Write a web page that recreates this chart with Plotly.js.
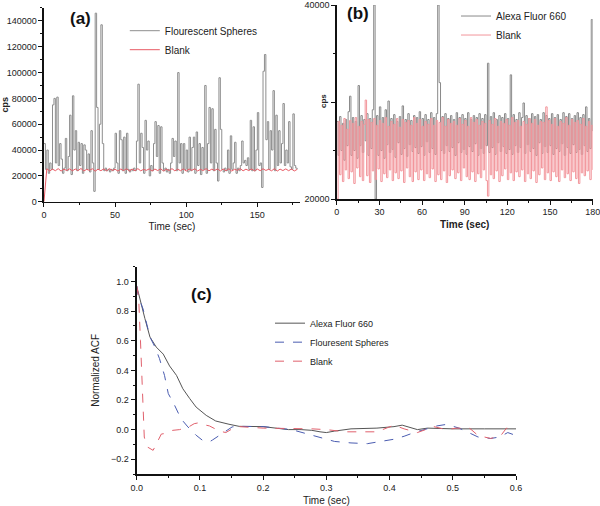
<!DOCTYPE html>
<html>
<head>
<meta charset="utf-8">
<script src="https://cdn.plot.ly/plotly-3.0.1.min.js"></script>
<style>html,body{margin:0;padding:0;background:#fff;}#chart{width:600px;height:506px;}</style>
</head>
<body>
<div id="chart"></div>
<script>
const spheresA = [45000,25000,40000,22000,30000,25000,75000,80000,30000,81000,
28000,45000,33000,22000,26000,49000,24000,35000,67000,21000,
82000,40000,55000,24000,46000,28000,45000,22000,44000,40000,
25000,37000,23000,55000,30000,8000,146000,73000,25000,60000,
137000,45000,24000,26000,24000,25000,23000,25000,24000,26000,
53000,30000,22000,55000,48000,24000,50000,22000,53000,25000,
23000,25000,24000,26000,24000,47000,91000,30000,53000,42000,
22000,63000,40000,47000,20000,28000,24000,45000,62000,35000,
59000,22000,58000,30000,24000,26000,23000,25000,22000,30000,
49000,35000,47000,24000,100000,30000,45000,22000,45000,25000,
40000,23000,50000,24000,42000,50000,22000,54000,28000,45000,
21000,42000,25000,90000,22000,45000,73000,30000,72000,24000,
56000,30000,16000,96000,56000,25000,23000,26000,24000,40000,
22000,51000,25000,30000,46000,22000,26000,24000,28000,47000,
30000,32000,28000,34000,25000,63000,24000,58000,24000,40000,
69000,28000,30000,11000,101000,114000,48000,62000,25000,55000,
40000,86000,24000,67000,28000,55000,30000,45000,76000,28000,
40000,30000,62000,27000,25000,68000,28000,26000,25000];
const blankA = [0,25500,23800,25200,24000,25600,23700,25100,24200,25400,
23900,25300,24100,25700,23800,25000,24300,25500,23600,25200,
24000,25400,23900,25600,24200,25100,23700,25300,24100,25500,
23800,25200,24000,25600,23900,25000,24300,25400,23700,25300,
24100,25500,23800,25100,24200,25600,23900,25200,24000,25400,
23700,25300,24300,25500,23800,25000,24100,25600,23900,25200,
24200,25400,23800,25300,24000,25500,23700,25100,24300,25600,
23900,25200,24100,25400,23800,25300,24000,25500,24200,25100,
23900,25600,23700,25200,24100,25400,24000,25300,23800,25000];
const alexaB = [28000,24500,28500,25000,27800,24000,28200,25500,29000,30600,
24500,28400,25000,28000,24200,31700,25500,28600,24800,28200,
26000,28800,24500,28300,25200,29200,40000,20000,28600,24500,
29500,25000,28400,24200,29200,25600,30100,24800,28300,25100,
28700,24300,28000,25800,28500,24600,29600,25200,28200,24400,
28800,25600,28100,24900,28600,25300,28400,24700,29000,25400,
28300,24500,28700,25900,28200,24800,28900,25200,28400,24600,
28800,40000,32000,25000,28500,24700,28800,25500,28300,24900,
28600,25300,28200,24500,28900,25800,28400,24800,28700,25100,
28300,24600,28900,25400,28200,24900,28600,25700,28400,24500,
28800,25200,28300,24700,28700,25500,34000,24800,28500,25300,
28900,24600,28200,25800,28600,24900,28400,25400,28800,24700,
28300,25100,32800,24600,28700,25500,28200,24800,28900,25300,
28400,29900,24700,28600,25600,28300,24900,28800,25200,28500,
24500,28700,25800,28200,24700,28900,25400,28600,24800,28300,
25500,28800,24600,28400,25200,28700,24900,28200,25700,28900,
24500,28500,25300,28800,24700,28300,25600,28600,24800,28900,
25100,28400,24600,28700,25500,29500,24900,28300,25200,38500,27000];
const blankB = [20000,28000,22500,27600,21800,28300,23000,27200,22100,28100,
22800,27800,21600,28400,23200,27500,22300,28000,21900,27700,
30200,22400,28200,21700,27900,22900,28300,22000,27600,23100,
28100,21800,27800,22600,28400,22200,27500,23000,28000,21900,
27700,22700,28300,22100,27400,22900,28200,21700,27900,23200,
28100,22300,27600,21800,28400,22800,27800,22000,28200,23000,
27500,21900,28000,22600,27700,22200,28300,23100,27600,21800,
28100,22500,27900,22000,28400,22900,27500,21700,28200,22400,
27800,23000,28000,22100,27600,22700,28300,21900,27700,23200,
28100,22300,27500,22000,28400,22800,27900,21800,28200,22600,
27600,22200,28000,23000,27800,21900,20300,28100,22500,27700,
22100,28300,22900,27500,21800,28000,22400,27800,23100,28200,
22000,27600,22700,28400,21900,27900,22800,28100,22300,27500,
23000,28000,21800,27700,22600,28300,22100,27800,22900,28200,
21700,27600,22500,28000,23200,27900,22000,29500,22700,28100,
21900,27700,22800,28300,22300,27500,21800,28000,23000,27800,
22200,28400,22600,27600,21900,28200,22800,27900,22100,28100,
21600,27700,22700,28300,22400,27500,22900,28000,22000,27600,23000];
const acfAlexaT = [0,0.005,0.013,0.021,0.031,0.042,0.052,0.063,0.073,0.084,0.094,0.11,0.125,0.146,0.162,0.2,0.225,0.24,0.26,0.277,0.29,0.3,0.313,0.339,0.38,0.407,0.42,0.444,0.46,0.5,0.55,0.6];
const acfAlexaV = [0.97,0.88,0.75,0.625,0.557,0.51,0.43,0.366,0.276,0.209,0.152,0.096,0.058,0.036,0.022,0.02,0.01,0.0,0.0,-0.005,-0.015,-0.02,-0.01,0.005,0.01,0.02,0.03,0.0,0.01,0.005,0.005,0.005];
const acfSpheresT = [0,0.0025,0.01,0.016,0.021,0.029,0.036,0.044,0.05,0.06,0.07,0.081,0.094,0.104,0.115,0.12,0.131,0.141,0.151,0.162,0.2,0.245,0.277,0.298,0.313,0.339,0.365,0.386,0.407,0.423,0.439,0.475,0.49,0.51,0.527,0.54,0.56,0.574,0.587,0.6];
const acfSpheresV = [0.97,0.9,0.816,0.715,0.625,0.557,0.48,0.366,0.243,0.164,0.074,0.018,-0.038,-0.072,-0.083,-0.07,-0.038,-0.005,0.018,0.022,0.02,0.0,-0.04,-0.065,-0.08,-0.09,-0.095,-0.08,-0.065,-0.045,-0.02,0.025,0.035,0.01,-0.025,-0.05,-0.06,-0.05,-0.02,-0.04];
const acfBlankT = [0,0.003,0.006,0.009,0.012,0.015,0.018,0.026,0.031,0.039,0.047,0.057,0.068,0.083,0.091,0.097,0.104,0.115,0.131,0.141,0.149,0.162,0.2,0.25,0.277,0.3,0.33,0.38,0.407,0.423,0.444,0.47,0.49,0.506,0.527,0.54,0.56,0.576,0.585,0.6];
const acfBlankV = [0.97,0.9,0.6,0.2,-0.05,-0.1,-0.12,-0.14,-0.1,-0.03,-0.025,-0.005,0.0,0.02,0.04,0.045,0.035,0.025,-0.01,-0.02,0.0,0.02,0.01,0.01,0.005,0.0,-0.015,-0.015,0.03,0.005,-0.02,0.02,0.0,0.01,0.008,-0.04,-0.06,-0.04,0.01,0.0];

const labelsA = {spheres: 'Flourescent Spheres', blank: 'Blank'};
const labelsB = {alexa: 'Alexa Fluor 660', blank: 'Blank'};
const labelsC = {alexa: 'Alexa Fluor 660', spheres: 'Flouresent Spheres', blank: 'Blank'};

const stepA = 1, stepBlankA = 2, stepB = 1;
const tSpheresA = spheresA.map((_, i) => i * stepA);
const tBlankA = blankA.map((_, i) => i * stepBlankA);
const tAlexaB = alexaB.map((_, i) => i * stepB);
const tBlankB = blankB.map((_, i) => i * stepB);

const FONT = 'Liberation Sans, Arial, sans-serif';

const traces = [
  {x: tSpheresA, y: spheresA, name: labelsA.spheres, type: 'scatter', mode: 'lines',
   line: {color: '#8e8e8e', width: 1, shape: 'hv'}, xaxis: 'x', yaxis: 'y', legend: 'legend'},
  {x: tBlankA, y: blankA, name: labelsA.blank, type: 'scatter', mode: 'lines',
   line: {color: '#e85a64', width: 1}, xaxis: 'x', yaxis: 'y', legend: 'legend'},
  {x: tAlexaB, y: alexaB, name: labelsB.alexa, type: 'scatter', mode: 'lines',
   line: {color: '#8a8a8a', width: 1, shape: 'hv'}, xaxis: 'x2', yaxis: 'y2', legend: 'legend2'},
  {x: tBlankB, y: blankB, name: labelsB.blank, type: 'scatter', mode: 'lines',
   line: {color: '#f2959b', width: 1, shape: 'hv'}, xaxis: 'x2', yaxis: 'y2', legend: 'legend2'},
  {x: acfAlexaT, y: acfAlexaV, name: labelsC.alexa, type: 'scatter', mode: 'lines',
   line: {color: '#555555', width: 1}, xaxis: 'x3', yaxis: 'y3', legend: 'legend3'},
  {x: acfSpheresT, y: acfSpheresV, name: labelsC.spheres, type: 'scatter', mode: 'lines',
   line: {color: '#4a5cb0', width: 1, dash: 'dash'}, xaxis: 'x3', yaxis: 'y3', legend: 'legend3'},
  {x: acfBlankT, y: acfBlankV, name: labelsC.blank, type: 'scatter', mode: 'lines',
   line: {color: '#e0606c', width: 1, dash: 'dash'}, xaxis: 'x3', yaxis: 'y3', legend: 'legend3'}
];

const tickFont = {family: FONT, size: 9, color: '#222'};
function axis(extra) {
  return Object.assign({
    showline: true, linecolor: '#111', linewidth: 1.5, showgrid: false, zeroline: false,
    ticks: 'outside', ticklen: 4, tickwidth: 1, tickcolor: '#111', tickfont: tickFont,
    mirror: false, automargin: false, ticklabeloverflow: 'allow',
    minor: {ticks: 'outside', ticklen: 2, tickcolor: '#111'}
  }, extra);
}

const legendBase = {xanchor: 'left', yanchor: 'top', bgcolor: 'rgba(0,0,0,0)', tracegroupgap: 0};

const layout = {
  width: 600, height: 506,
  margin: {l: 0, r: 0, t: 0, b: 0},
  paper_bgcolor: '#fff', plot_bgcolor: 'rgba(0,0,0,0)',
  font: {family: FONT, color: '#222'},
  xaxis: axis({domain: [0.0733, 0.5], range: [0, 180], anchor: 'y', tickvals: [0, 50, 100, 150],
    minor: {ticks: 'outside', ticklen: 2, tickcolor: '#111', dtick: 25, tick0: 0},
    title: {text: 'Time (sec)', font: {family: FONT, size: 10, color: '#222'}, standoff: 4}}),
  yaxis: axis({domain: [0.6014, 0.9842], range: [0, 150000], anchor: 'x', dtick: 20000, tick0: 0,
    tickformat: 'd',
    minor: {ticks: 'outside', ticklen: 2, tickcolor: '#111', dtick: 10000},
    title: {text: '<b>cps</b>', font: {family: FONT, size: 9, color: '#222'}, standoff: 4}}),
  xaxis2: axis({domain: [0.5612, 0.9878], range: [0, 180.01], anchor: 'y2',
    tickvals: [0, 30, 60, 90, 120, 150, 180],
    minor: {ticks: 'outside', ticklen: 2, tickcolor: '#111', dtick: 15},
    title: {text: '<b>Time (sec)</b>', font: {family: FONT, size: 10, color: '#222'}, standoff: 4}}),
  yaxis2: axis({domain: [0.6067, 0.9901], range: [20000, 40000], anchor: 'x2',
    tickvals: [20000, 30000, 40000], ticktext: ['20000', '', '40000'],
    minor: {ticks: 'outside', ticklen: 2, tickcolor: '#111', dtick: 5000}}),
  xaxis3: axis({domain: [0.2278, 0.86], range: [0, 0.6], anchor: 'y3', dtick: 0.1, tick0: 0,
    tickformat: '.1f', linewidth: 2,
    minor: {ticks: 'outside', ticklen: 2, tickcolor: '#111', dtick: 0.05},
    title: {text: 'Time (sec)', font: {family: FONT, size: 10, color: '#222'}, standoff: 8}}),
  yaxis3: axis({domain: [0.0632, 0.4729], range: [-0.3, 1.1], anchor: 'x3', dtick: 0.2, tick0: -0.2,
    tickformat: '.1f', linewidth: 2,
    minor: {ticks: 'outside', ticklen: 2, tickcolor: '#111', dtick: 0.1},
    title: {text: 'Normalized ACF', font: {family: FONT, size: 10, color: '#222'}, standoff: 10}}),
  legend: Object.assign({}, legendBase, {x: 0.208, y: 0.968, font: {family: FONT, size: 10, color: '#222'}}),
  legend2: Object.assign({}, legendBase, {x: 0.76, y: 0.997, font: {family: FONT, size: 10, color: '#222'}}),
  legend3: Object.assign({}, legendBase, {x: 0.45, y: 0.39, font: {family: FONT, size: 9, color: '#222'}}),
  annotations: [
    {text: '<b>(a)</b>', xref: 'paper', yref: 'paper', x: 80 / 600, y: 1 - 18 / 506,
     xanchor: 'center', yanchor: 'middle', showarrow: false, font: {family: FONT, size: 17, color: '#111'}},
    {text: '<b>(b)</b>', xref: 'paper', yref: 'paper', x: 358 / 600, y: 1 - 14 / 506,
     xanchor: 'center', yanchor: 'middle', showarrow: false, font: {family: FONT, size: 17, color: '#111'}},
    {text: '<b>(c)</b>', xref: 'paper', yref: 'paper', x: 201 / 600, y: 1 - 294 / 506,
     xanchor: 'center', yanchor: 'middle', showarrow: false, font: {family: FONT, size: 17, color: '#111'}},
    {text: '<b>cps</b>', xref: 'paper', yref: 'paper', x: 324 / 600, y: 1 - 101 / 506,
     xanchor: 'center', yanchor: 'middle', textangle: -90, showarrow: false,
     font: {family: FONT, size: 8, color: '#222'}}
  ],
  showlegend: true
};

Plotly.newPlot('chart', traces, layout, {displayModeBar: false, staticPlot: true});
</script>
</body>
</html>
